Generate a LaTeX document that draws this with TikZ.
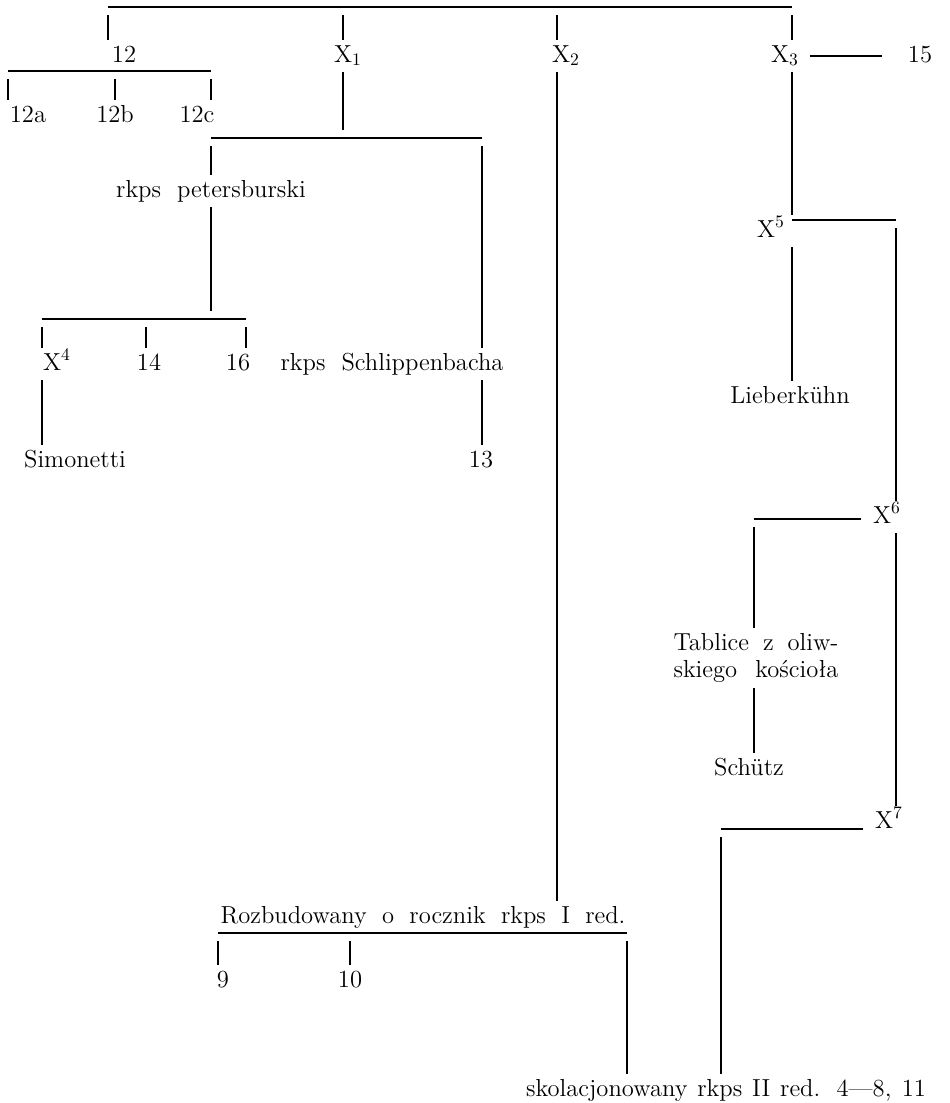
\documentclass[tikz,border=0pt]{standalone}
\usepackage{fontspec}
\usepackage{tikz}
\usetikzlibrary{calc,positioning}

\begin{document}
\begin{tikzpicture}[x=0.02cm,y=-0.02cm,
	witness/.style={inner xsep=2pt, inner ysep=2.5pt, text height=10pt, text depth=3pt, font=\fontsize{14}{17}\selectfont},
	twoline/.style={inner xsep=2pt, inner ysep=3pt, align=center, font=\fontsize{14}{15.5}\selectfont},
	branch/.style={line width=0.8pt},
	drop/.style={branch, shorten <=1.6mm},
	rise/.style={branch, shorten >=1.6mm},
	tie/.style={branch, shorten <=1.4mm, shorten >=4.4mm}
	] % End Creating Stemma Pieces

\useasboundingbox (0,0) rectangle (950,1103);

% witnesses
\node [witness] at (124,56) (n12) {12};
\node [witness] at (348,56) (x1) {X$_1$};
\node [witness] at (566,56) (x2) {X$_2$};
\node [witness] at (785,56) (x3) {X$_3$};
\node [witness] at (920,56) (n15) {15};

\node [witness] at (28,116) (n12a) {12a};
\node [witness] at (115,116) (n12b) {12b};
\node [witness] at (197,116) (n12c) {12c};

\node [witness] at (211,191) (pet) {rkps~~petersburski};
\node [witness] at (57,364) (x4) {X$^4$};
\node [witness] at (149,364) (n14) {14};
\node [witness] at (238,364) (n16) {16};
\node [witness] at (392,364) (schl) {rkps~~Schlippenbacha};
\node [witness] at (75,461) (sim) {Simonetti};
\node [witness] at (481,461) (n13) {13};

\node [witness] at (771,231) (x5) {X$^5$};
\node [witness] at (790,397) (lieb) {Lieberkühn};
\node [witness] at (887,517) (x6) {X$^6$};
\node [twoline] at (756,658) (tab) {\makebox[3.3cm][s]{Tablice z oliw-}\\\makebox[3.3cm][s]{skiego kościoła}};
\node [witness] at (749,769) (sch) {Schütz};
\node [witness] at (889,822) (x7) {X$^7$};

\node [witness] at (423,917) (rozb) {\makebox[8.1cm][s]{Rozbudowany o rocznik rkps I red.}};
\node [witness] at (223,981) (n9) {9};
\node [witness] at (350,981) (n10) {10};
\node [witness] at (726,1090) (skol) {\makebox[8cm][s]{skolacjonowany rkps II red. 4---8, 11}};

% bar ends
\coordinate (t-l) at (108,7);
\coordinate (t-1) at (343,7);
\coordinate (t-2) at (557,7);
\coordinate (t-3) at (792,7);
\coordinate (a-l) at (8,71);
\coordinate (a-m) at (115,71);
\coordinate (a-r) at (211,71);
\coordinate (b1-l) at (211,138);
\coordinate (b1-m) at (343,138);
\coordinate (b1-r) at (482,138);
\coordinate (p-l) at (42,319);
\coordinate (p-m) at (146,319);
\coordinate (p-r) at (246,319);
\coordinate (b5) at (896,220);
\coordinate (b6) at (754,519);
\coordinate (b7) at (721,829);
\coordinate (r-l) at (218,933);
\coordinate (r-m) at (350,933);
\coordinate (r-r) at (627,933);

% archetype
\draw [branch] (t-l) -- (t-3);
\draw [drop] (t-l) -- (t-l |- n12.north);
\draw [drop] (t-1) -- (t-1 |- x1.north);
\draw [drop] (t-2) -- (t-2 |- x2.north);
\draw [drop] (t-3) -- (t-3 |- x3.north);

\draw [branch] (a-l) -- (a-r);
\draw [drop] (a-l) -- (a-l |- n12a.north);
\draw [drop] (a-m) -- (a-m |- n12b.north);
\draw [drop] (a-r) -- (a-r |- n12c.north);

% X1 branch
\draw [rise] (x1.south -| b1-m) -- (b1-m);
\draw [branch] (b1-l) -- (b1-r);
\draw [drop] (b1-l) -- (b1-l |- pet.north);
\draw [drop] (b1-r) -- (b1-r |- schl.north);
\draw [branch] (schl.south -| b1-r) -- (b1-r |- n13.north);

\draw [rise] (pet.south -| b1-l) -- (b1-l |- p-l);
\draw [branch] (p-l) -- (p-r);
\draw [drop] (p-l) -- (p-l |- x4.north);
\draw [drop] (p-m) -- (p-m |- n14.north);
\draw [drop] (p-r) -- (p-r |- n16.north);
\draw [branch] (x4.south -| p-l) -- (p-l |- sim.north);

% X2 branch
\draw [branch] (x2.south -| t-2) -- (t-2 |- rozb.north);
\draw [branch] (r-l) -- (r-r);
\draw [drop] (r-l) -- (r-l |- n9.north);
\draw [drop] (r-m) -- (r-m |- n10.north);
\draw [drop] (r-r) -- (r-r |- skol.north);

% X3 branch
\draw [tie] (x3.east) -- (n15.west);
\draw [branch] (x3.south -| t-3) -- (t-3 |- x5.north);
\draw [branch] (x5.south -| t-3) -- (t-3 |- lieb.north);
\draw [branch] (b5 -| t-3) -- (b5);
\draw [drop] (b5) -- (b5 |- x6.north);

\draw [rise] (b6) -- (b6 -| x6.west);
\draw [drop] (b6) -- (b6 |- tab.north);
\draw [branch] (tab.south -| b6) -- (b6 |- sch.north);
\draw [branch] (x6.south -| b5) -- (b5 |- x7.north);

\draw [rise] (b7) -- (b7 -| x7.west);
\draw [drop] (b7) -- (b7 |- skol.north);
\end{tikzpicture}
\end{document}
